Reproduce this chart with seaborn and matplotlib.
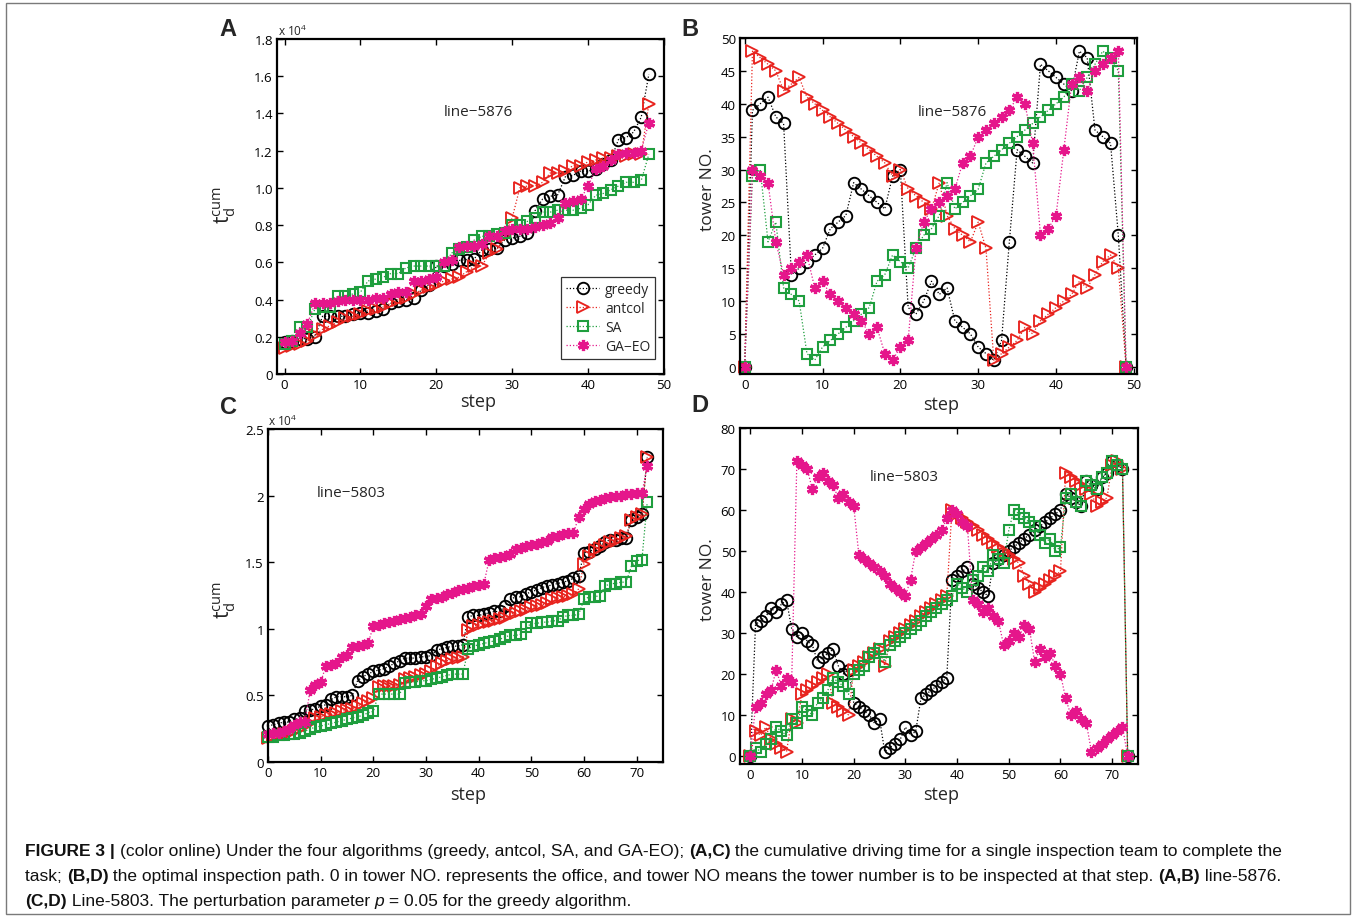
import numpy as np
import pandas as pd
import seaborn as sns
import matplotlib
matplotlib.use("Agg")
import matplotlib.pyplot as plt
from matplotlib.patches import Rectangle
from matplotlib.font_manager import FontProperties

# ---------------- data (values in x10^4 for cumulative time) ----------------
algorithms = ["greedy", "antcol", "SA", "GA\u2212EO"]

greedy_A = [0.17, 0.18, 0.19, 0.19, 0.20, 0.31, 0.31, 0.31, 0.31, 0.32,
            0.33, 0.33, 0.34, 0.35, 0.38, 0.39, 0.40, 0.41, 0.45, 0.48,
            0.58, 0.58, 0.59, 0.61, 0.615, 0.62, 0.665, 0.67, 0.675, 0.72,
            0.73, 0.74, 0.755, 0.877, 0.94, 0.955, 0.963, 1.06, 1.067, 1.09,
            1.09, 1.10, 1.13, 1.15, 1.26, 1.27, 1.30, 1.38, 1.61]
antcol_A = [0.14, 0.15, 0.16, 0.18, 0.21, 0.24, 0.26, 0.28, 0.30, 0.31,
            0.32, 0.34, 0.35, 0.36, 0.38, 0.40, 0.41, 0.43, 0.45, 0.47,
            0.48, 0.50, 0.51, 0.52, 0.55, 0.58, 0.58, 0.65, 0.67, 0.74,
            0.84, 1.00, 1.01, 1.01, 1.03, 1.08, 1.08, 1.09, 1.12, 1.12,
            1.14, 1.15, 1.16, 1.16, 1.17, 1.17, 1.18, 1.18, 1.45]
sa_A = [0.16, 0.18, 0.25, 0.25, 0.35, 0.36, 0.36, 0.42, 0.42, 0.43,
        0.44, 0.50, 0.51, 0.52, 0.54, 0.54, 0.57, 0.58, 0.58, 0.58,
        0.58, 0.58, 0.65, 0.67, 0.68, 0.72, 0.74, 0.74, 0.75, 0.76,
        0.80, 0.80, 0.82, 0.84, 0.87, 0.87, 0.88, 0.88, 0.88, 0.89,
        0.91, 0.96, 0.97, 0.99, 1.01, 1.03, 1.03, 1.04, 1.18]
gaeo_A = [0.17, 0.18, 0.22, 0.27, 0.38, 0.38, 0.38, 0.39, 0.40, 0.40,
          0.40, 0.40, 0.41, 0.41, 0.43, 0.44, 0.44, 0.50, 0.50, 0.51,
          0.52, 0.60, 0.61, 0.68, 0.69, 0.69, 0.70, 0.74, 0.74, 0.77,
          0.78, 0.78, 0.78, 0.79, 0.80, 0.81, 0.84, 0.92, 0.93, 0.94,
          1.01, 1.10, 1.12, 1.15, 1.18, 1.19, 1.19, 1.20, 1.35]

greedy_B = [0, 39, 40, 41, 38, 37, 14, 15, 16, 17, 18, 21, 22, 23, 28, 27, 26, 25, 24, 29,
            30, 9, 8, 10, 13, 11, 12, 7, 6, 5, 3, 2, 1, 4, 19, 33, 32, 31, 46, 45,
            44, 43, 42, 48, 47, 36, 35, 34, 20, 0]
antcol_B = [0, 48, 47, 46, 45, 42, 43, 44, 41, 40, 39, 38, 37, 36, 35, 34, 33, 32, 31, 29,
            30, 27, 26, 25, 24, 28, 23, 21, 20, 19, 22, 18, 1, 2, 3, 4, 6, 5, 7, 8,
            9, 10, 11, 13, 12, 14, 16, 17, 15, 0]
sa_B = [0, 29, 30, 19, 22, 12, 11, 10, 2, 1, 3, 4, 5, 6, 7, 8, 9, 13, 14, 17,
        16, 15, 18, 20, 21, 23, 28, 24, 25, 26, 27, 31, 32, 33, 34, 35, 36, 37, 38, 39,
        40, 41, 43, 42, 44, 46, 48, 47, 45, 0]
gaeo_B = [0, 30, 29, 28, 19, 14, 15, 16, 17, 12, 13, 11, 10, 9, 8, 7, 5, 6, 2, 1,
          3, 4, 18, 22, 24, 25, 26, 27, 31, 32, 35, 36, 37, 38, 39, 41, 40, 34, 20, 21,
          23, 33, 43, 44, 42, 45, 46, 47, 48, 0]

greedy_C = [0.27, 0.28, 0.29, 0.30, 0.30, 0.32, 0.33, 0.38, 0.39, 0.40,
            0.42, 0.43, 0.47, 0.49, 0.49, 0.49, 0.50, 0.61, 0.64, 0.66,
            0.68, 0.69, 0.70, 0.72, 0.74, 0.76, 0.78, 0.78, 0.78, 0.79,
            0.79, 0.80, 0.84, 0.85, 0.86, 0.87, 0.87, 0.88, 1.09, 1.10,
            1.10, 1.11, 1.12, 1.13, 1.13, 1.17, 1.22, 1.24, 1.24, 1.26,
            1.28, 1.29, 1.31, 1.32, 1.33, 1.34, 1.35, 1.36, 1.38, 1.40,
            1.57, 1.58, 1.60, 1.62, 1.65, 1.67, 1.67, 1.68, 1.68, 1.82,
            1.84, 1.86, 2.29]
antcol_C = [0.18, 0.19, 0.20, 0.21, 0.22, 0.23, 0.25, 0.27, 0.29, 0.33,
            0.34, 0.35, 0.36, 0.37, 0.38, 0.39, 0.40, 0.42, 0.44, 0.46,
            0.48, 0.56, 0.57, 0.57, 0.57, 0.58, 0.62, 0.63, 0.64, 0.65,
            0.66, 0.68, 0.72, 0.74, 0.76, 0.77, 0.78, 0.79, 0.99, 1.02,
            1.03, 1.04, 1.05, 1.06, 1.07, 1.08, 1.11, 1.12, 1.13, 1.14,
            1.16, 1.17, 1.18, 1.19, 1.22, 1.23, 1.24, 1.25, 1.26, 1.30,
            1.49, 1.55, 1.59, 1.61, 1.63, 1.65, 1.66, 1.68, 1.70, 1.82,
            1.84, 1.86, 2.29]
sa_C = [0.19, 0.19, 0.20, 0.20, 0.21, 0.21, 0.22, 0.23, 0.25, 0.26,
        0.27, 0.28, 0.29, 0.30, 0.31, 0.32, 0.33, 0.34, 0.35, 0.37,
        0.38, 0.51, 0.51, 0.51, 0.51, 0.51, 0.59, 0.60, 0.60, 0.61,
        0.61, 0.62, 0.63, 0.64, 0.65, 0.66, 0.66, 0.66, 0.85, 0.87,
        0.88, 0.89, 0.90, 0.91, 0.92, 0.94, 0.95, 0.95, 0.96, 1.01,
        1.04, 1.04, 1.05, 1.05, 1.06, 1.06, 1.09, 1.10, 1.10, 1.11,
        1.22, 1.24, 1.24, 1.25, 1.32, 1.34, 1.34, 1.35, 1.35, 1.47,
        1.51, 1.52, 1.95]
gaeo_C = [0.21, 0.22, 0.22, 0.23, 0.25, 0.28, 0.30, 0.30, 0.54, 0.58,
          0.60, 0.72, 0.73, 0.74, 0.79, 0.80, 0.86, 0.87, 0.88, 0.89,
          1.02, 1.03, 1.04, 1.05, 1.06, 1.07, 1.08, 1.09, 1.10, 1.11,
          1.17, 1.22, 1.23, 1.24, 1.26, 1.27, 1.29, 1.30, 1.31, 1.32,
          1.33, 1.34, 1.52, 1.53, 1.54, 1.55, 1.56, 1.60, 1.61, 1.62,
          1.63, 1.64, 1.65, 1.66, 1.69, 1.70, 1.71, 1.72, 1.72, 1.84,
          1.90, 1.94, 1.96, 1.97, 1.98, 1.99, 2.00, 2.00, 2.01, 2.01,
          2.02, 2.02, 2.22]

greedy_D = [0, 32, 33, 34, 36, 35, 37, 38, 31, 29, 30, 28, 27, 23, 24, 25, 26, 22, 20, 21,
            13, 12, 11, 10, 8, 9, 1, 2, 3, 4, 7, 5, 6, 14, 15, 16, 17, 18, 19, 43,
            44, 45, 46, 42, 41, 40, 39, 47, 48, 49, 50, 51, 52, 53, 54, 55, 56, 57, 58, 59,
            60, 64, 63, 62, 61, 67, 66, 65, 68, 69, 72, 71, 70, 0]
antcol_D = [0, 6, 5, 7, 4, 3, 2, 1, 9, 8, 15, 16, 17, 18, 19, 20, 13, 12, 11, 10,
            21, 22, 23, 24, 25, 26, 22, 28, 29, 30, 31, 32, 33, 34, 35, 36, 37, 38, 39, 60,
            59, 58, 57, 56, 55, 54, 53, 52, 51, 50, 49, 48, 47, 44, 42, 40, 41, 42, 43, 44,
            45, 69, 68, 67, 66, 65, 64, 61, 62, 63, 71, 72, 70, 0]
sa_D = [0, 2, 1, 3, 4, 7, 6, 5, 9, 8, 12, 11, 10, 13, 14, 16, 19, 18, 17, 15,
        20, 21, 22, 24, 25, 26, 23, 27, 28, 29, 30, 31, 32, 33, 34, 35, 36, 37, 38, 39,
        42, 41, 40, 43, 44, 46, 45, 49, 48, 47, 55, 60, 59, 58, 57, 56, 54, 52, 53, 50,
        51, 63, 64, 62, 61, 67, 66, 65, 68, 69, 72, 71, 70, 0]
gaeo_D = [0, 12, 13, 15, 16, 21, 17, 19, 18, 72, 71, 70, 65, 68, 69, 67, 66, 63, 64, 62,
          61, 49, 48, 47, 46, 45, 44, 42, 41, 40, 39, 43, 50, 51, 52, 53, 54, 55, 58, 60,
          59, 57, 56, 38, 37, 35, 36, 34, 33, 27, 28, 30, 29, 32, 31, 23, 26, 24, 25, 22,
          20, 14, 10, 11, 9, 8, 1, 2, 3, 4, 5, 6, 7, 0]

line_names = ["line\u22125876", "line\u22125876", "line\u22125803", "line\u22125803"]
panel_letters = ["A", "B", "C", "D"]

# ---------------- style ----------------
sns.set_style("ticks")
plt.rcParams["font.family"] = ["Open Sans", "DejaVu Sans"]
plt.rcParams["axes.linewidth"] = 1.6

W, H = 1356, 920
fig = plt.figure(figsize=(W / 100, H / 100), dpi=100)
fig.patch.set_facecolor("white")


def fbox(l, t, r, b):
    return [l / W, 1 - b / H, (r - l) / W, (b - t) / H]


def fx(x):
    return x / W


def fy(y):
    return 1 - y / H


axA = fig.add_axes(fbox(277, 40, 664, 375))
axB = fig.add_axes(fbox(740, 39, 1137, 375))
axC = fig.add_axes(fbox(268, 430, 663, 763))
axD = fig.add_axes(fbox(740, 429, 1138, 765))

series_style = {
    "greedy": dict(color="black", marker="o", markersize=8.3, markerfacecolor="none",
                   markeredgecolor="black", markeredgewidth=1.35),
    "antcol": dict(color="#e8231e", marker=">", markersize=8.6, markerfacecolor="none",
                   markeredgecolor="#e8231e", markeredgewidth=1.35),
    "SA": dict(color="#1f9e3e", marker="s", markersize=6.8, markerfacecolor="none",
               markeredgecolor="#1f9e3e", markeredgewidth=1.5),
    "GA\u2212EO": dict(color="#e5168b", marker=(6, 2, 0), markersize=8.0,
                       markerfacecolor="#e5168b", markeredgecolor="#e5168b",
                       markeredgewidth=2.3),
}

panel_data = {
    "A": [greedy_A, antcol_A, sa_A, gaeo_A],
    "B": [greedy_B, antcol_B, sa_B, gaeo_B],
    "C": [greedy_C, antcol_C, sa_C, gaeo_C],
    "D": [greedy_D, antcol_D, sa_D, gaeo_D],
}
axes = {"A": axA, "B": axB, "C": axC, "D": axD}

for key, ax in axes.items():
    for name, vals in zip(algorithms, panel_data[key]):
        steps = np.arange(len(vals))
        kw = dict(series_style[name])
        sns.lineplot(x=steps, y=vals, ax=ax, sort=False, estimator=None,
                     linestyle=(0, (1, 1.6)), linewidth=0.9,
                     label=name if key == "A" else None, clip_on=False, **kw)
    leg = ax.get_legend()
    if leg is not None:
        leg.remove()
    ax.tick_params(direction="in", top=True, right=True, length=4, width=1,
                   labelsize=9.5, pad=3, colors="black")
    ax.set_xlabel("")
    ax.set_ylabel("")
    for sp in ax.spines.values():
        sp.set_visible(True)
        sp.set_linewidth(1.6)
        sp.set_color("black")

# limits and ticks
axA.set_xlim(-1, 50)
axA.set_ylim(0, 1.8)
axA.set_xticks(range(0, 51, 10))
axA.set_yticks(np.arange(0, 1.81, 0.2))
axA.set_yticklabels(["0", "0.2", "0.4", "0.6", "0.8", "1.0", "1.2", "1.4", "1.6", "1.8"])

axB.set_xlim(-0.6, 50.4)
axB.set_ylim(-1.1, 50)
axB.set_xticks(range(0, 51, 10))
axB.set_yticks(range(0, 51, 5))

axC.set_xlim(0, 75)
axC.set_ylim(0, 2.5)
axC.set_xticks(range(0, 71, 10))
axC.set_yticks([0, 0.5, 1, 1.5, 2, 2.5])
axC.set_yticklabels(["0", "0.5", "1", "1.5", "2", "2.5"])

axD.set_xlim(-2, 75)
axD.set_ylim(-2, 80)
axD.set_xticks(range(0, 71, 10))
axD.set_yticks(range(0, 81, 10))

# legend in A
handles, labels = axA.get_legend_handles_labels()
legA = axA.legend(handles, labels, loc="lower right", bbox_to_anchor=(0.977, 0.045),
                  borderaxespad=0, frameon=True, fancybox=False, edgecolor="black",
                  fontsize=10, handlelength=2.4, handletextpad=0.4, labelspacing=0.3,
                  borderpad=0.35)
legA.get_frame().set_linewidth(0.9)

# panel letters
for letter, (x, y) in zip(panel_letters, [(228, 30), (690, 30), (228, 408), (700, 405)]):
    fig.text(fx(x), fy(y), letter, ha="center", va="center", fontsize=17,
             fontweight="bold", family="Liberation Sans")

# offset labels
fig.text(fx(278), fy(36), r"x 10$^{\mathregular{4}}$", fontsize=8.5, va="baseline")
fig.text(fx(268), fy(426), r"x 10$^{\mathregular{4}}$", fontsize=8.5, va="baseline")

# line names
for name, (x, y) in zip(line_names, [(478, 112), (952, 112), (351, 494), (904, 478)]):
    fig.text(fx(x), fy(y), name, ha="center", va="center", fontsize=11)

# x labels
for (x, y) in [(478, 402), (941, 405), (468, 795), (941, 795)]:
    fig.text(fx(x), fy(y), "step", ha="center", va="center", fontsize=13)

# y labels
for (x, y) in [(225, 205), (225, 600)]:
    fig.text(fx(x), fy(y), r"$\mathregular{t_d^{cum}}$", ha="center", va="center",
             fontsize=15, rotation=90)
for (x, y) in [(708, 190), (708, 580)]:
    fig.text(fx(x), fy(y), "tower NO.", ha="center", va="center", fontsize=12.5,
             rotation=90)

# frame
fig.patches.append(Rectangle((fx(6), fy(915)), (1350 - 6) / W, (915 - 4) / H,
                             transform=fig.transFigure, fill=False,
                             edgecolor="#7a7a7a", linewidth=1.0))

# caption with mixed weights
caption_lines = [
    [("FIGURE 3 | ", "bold", "normal"),
     ("(color online) Under the four algorithms (greedy, antcol, SA, and GA-EO); ", "normal", "normal"),
     ("(A,C)", "bold", "normal"),
     (" the cumulative driving time for a single inspection team to complete the", "normal", "normal")],
    [("task; ", "normal", "normal"), ("(B,D)", "bold", "normal"),
     (" the optimal inspection path. 0 in tower NO. represents the office, and tower NO means the tower number is to be inspected at that step. ", "normal", "normal"),
     ("(A,B)", "bold", "normal"), (" line-5876.", "normal", "normal")],
    [("(C,D)", "bold", "normal"),
     (" Line-5803. The perturbation parameter ", "normal", "normal"),
     ("p", "normal", "italic"), (" = 0.05 for the greedy algorithm.", "normal", "normal")],
]
cap_family = ["Liberation Sans Narrow", "Liberation Sans"]
renderer = fig.canvas.get_renderer()


def text_width(s, fp):
    w1, _, _ = renderer.get_text_width_height_descent(s + "|", fp, ismath=False)
    w2, _, _ = renderer.get_text_width_height_descent("|", fp, ismath=False)
    return w1 - w2


def line_width(pieces, size):
    tot = 0
    for s, wgt, sty in pieces:
        fp = FontProperties(family=cap_family, weight=wgt, style=sty, size=size)
        tot += text_width(s, fp)
    return tot


base = 12.0
scale = 1255.0 / line_width(caption_lines[0], base)
cap_size = base * scale
for pieces, yb in zip(caption_lines, [856, 881, 906]):
    x = 25.0
    for s, wgt, sty in pieces:
        fp = FontProperties(family=cap_family, weight=wgt, style=sty, size=cap_size)
        fig.text(fx(x), fy(yb), s, fontproperties=fp, va="baseline", ha="left",
                 color="#111111")
        x += text_width(s, fp)

fig.savefig("out.png", dpi=100, facecolor="white")
